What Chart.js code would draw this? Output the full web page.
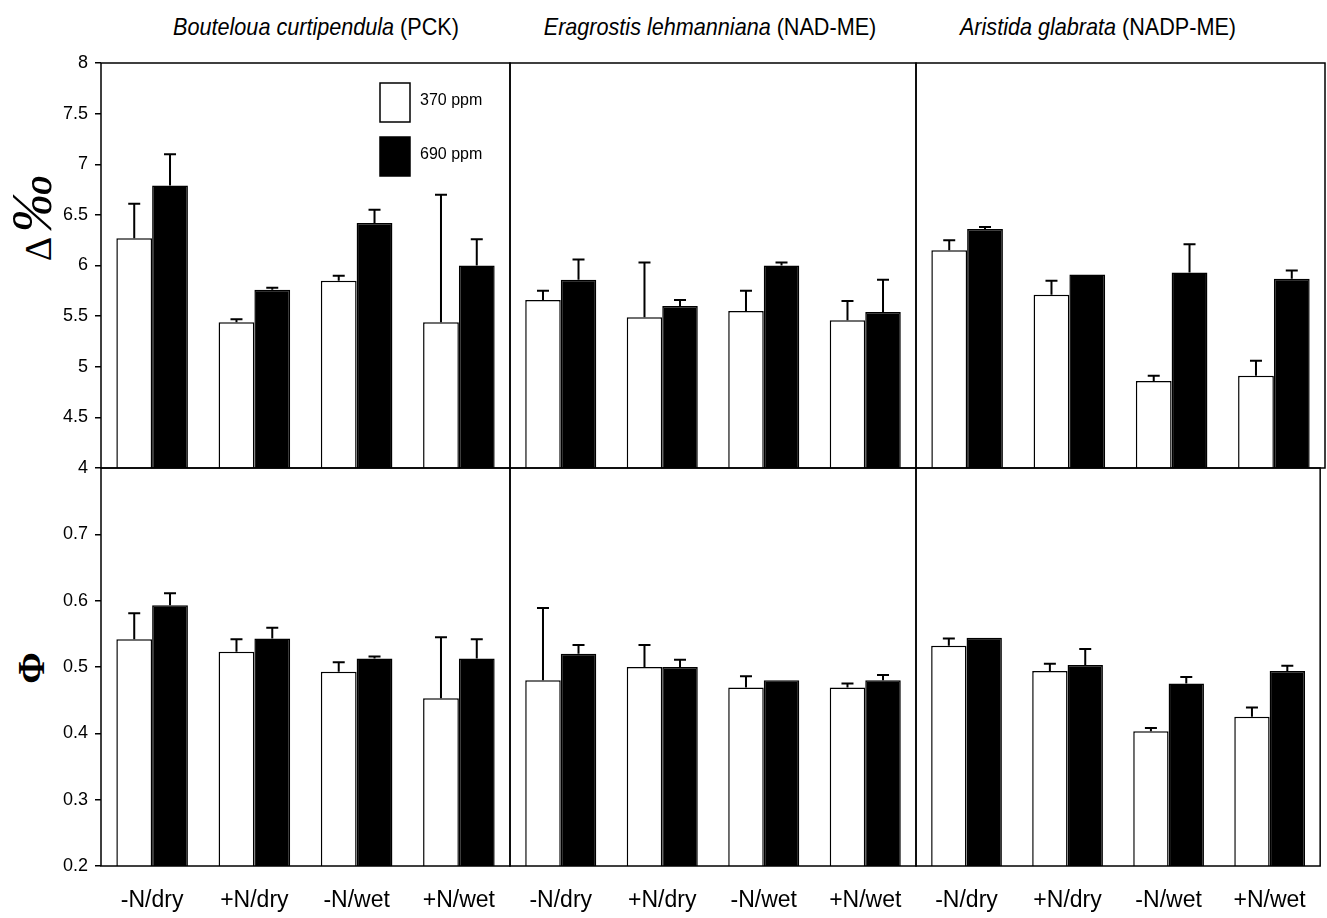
<!DOCTYPE html>
<html>
<head>
<meta charset="utf-8">
<script src="https://cdn.jsdelivr.net/npm/chart.js@4.4.1/dist/chart.umd.min.js"></script>
<style>
  html, body { margin: 0; padding: 0; background: #fff; }
  #wrap { position: relative; width: 1327px; height: 918px; overflow: hidden; }
  #wrap canvas { position: absolute; left: 0; top: 0; }
  .title {
    position: absolute; top: 12px; line-height: 30px; transform: translateX(-50%) scaleX(0.9);
    white-space: nowrap; color: #000; font-size: 24px;
    font-family: 'Liberation Sans', Arial, sans-serif;
  }
  .ylab {
    position: absolute; white-space: nowrap; color: #000;
    font-family: 'Liberation Serif', 'DejaVu Serif', serif;
    transform: translate(-50%, -50%) rotate(-90deg);
  }
</style>
</head>
<body>
<div id="wrap">
  <div class="title" style="left:316px"><i>Bouteloua curtipendula</i> (PCK)</div>
  <div class="title" style="left:710px"><i>Eragrostis lehmanniana</i> (NAD-ME)</div>
  <div class="title" style="left:1098px"><i>Aristida glabrata</i> (NADP-ME)</div>
  <div class="ylab" style="left:31px; top:218px"><span style="font-size:38px">Δ</span>&nbsp;<span style="font-size:58px; font-style:italic; font-weight:normal">‰</span></div>
  <div class="ylab" style="left:31px; top:668px; font-size:38px; font-weight:bold">Φ</div>
</div>
<script>
const conditions = ['-N/dry', '+N/dry', '-N/wet', '+N/wet'];
const seriesLabels = ['370 ppm', '690 ppm'];
const deltaTicks = [4, 4.5, 5, 5.5, 6, 6.5, 7, 7.5, 8];
const phiTicks = [0.2, 0.3, 0.4, 0.5, 0.6, 0.7];

// Δ‰ (bar value and top of the error bar)
const deltaBout370 = [6.27, 5.44, 5.85, 5.44];
const deltaBout370Upper = [6.61, 5.47, 5.90, 6.70];
const deltaBout690 = [6.79, 5.76, 6.42, 6.00];
const deltaBout690Upper = [7.10, 5.78, 6.55, 6.26];
const deltaErag370 = [5.66, 5.49, 5.55, 5.46];
const deltaErag370Upper = [5.75, 6.03, 5.75, 5.65];
const deltaErag690 = [5.86, 5.60, 6.00, 5.54];
const deltaErag690Upper = [6.06, 5.66, 6.03, 5.86];
const deltaArist370 = [6.15, 5.71, 4.86, 4.91];
const deltaArist370Upper = [6.25, 5.85, 4.91, 5.06];
const deltaArist690 = [6.36, 5.91, 5.93, 5.87];
const deltaArist690Upper = [6.38, 5.91, 6.21, 5.95];

// Φ
const phiBout370 = [0.542, 0.523, 0.493, 0.453];
const phiBout370Upper = [0.581, 0.542, 0.507, 0.545];
const phiBout690 = [0.593, 0.543, 0.513, 0.513];
const phiBout690Upper = [0.611, 0.559, 0.516, 0.542];
const phiErag370 = [0.480, 0.500, 0.469, 0.469];
const phiErag370Upper = [0.589, 0.533, 0.486, 0.475];
const phiErag690 = [0.520, 0.500, 0.480, 0.480];
const phiErag690Upper = [0.533, 0.511, 0.480, 0.488];
const phiArist370 = [0.532, 0.494, 0.403, 0.425];
const phiArist370Upper = [0.543, 0.505, 0.408, 0.439];
const phiArist690 = [0.544, 0.503, 0.475, 0.494];
const phiArist690Upper = [0.544, 0.527, 0.485, 0.502];

const W = 1327, H = 918;
const colLeft = [101, 510, 916];
const colRight = [510, 916, 1325];
const rowTop = [63, 468];
const rowBottom = [468, 866];
const sans = "'Liberation Sans', Arial, sans-serif";

const panels = [
  { row: 0, col: 0, a: deltaBout370, aUp: deltaBout370Upper, b: deltaBout690, bUp: deltaBout690Upper },
  { row: 0, col: 1, a: deltaErag370, aUp: deltaErag370Upper, b: deltaErag690, bUp: deltaErag690Upper },
  { row: 0, col: 2, a: deltaArist370, aUp: deltaArist370Upper, b: deltaArist690, bUp: deltaArist690Upper },
  { row: 1, col: 0, a: phiBout370, aUp: phiBout370Upper, b: phiBout690, bUp: phiBout690Upper },
  { row: 1, col: 1, a: phiErag370, aUp: phiErag370Upper, b: phiErag690, bUp: phiErag690Upper },
  { row: 1, col: 2, a: phiArist370, aUp: phiArist370Upper, b: phiArist690, bUp: phiArist690Upper }
];

// upper error whiskers
const errorBars = {
  id: 'errorBars',
  afterDatasetsDraw(chart) {
    const ctx = chart.ctx, y = chart.scales.y;
    chart.data.datasets.forEach((ds, i) => {
      chart.getDatasetMeta(i).data.forEach((bar, j) => {
        const top = ds.upper[j];
        if (top <= ds.data[j]) return;
        const yt = y.getPixelForValue(top);
        ctx.save();
        ctx.strokeStyle = '#000';
        ctx.lineWidth = 2;
        ctx.beginPath();
        ctx.moveTo(bar.x, bar.y);
        ctx.lineTo(bar.x, yt);
        ctx.moveTo(bar.x - 6, yt);
        ctx.lineTo(bar.x + 6, yt);
        ctx.stroke();
        ctx.restore();
      });
    });
  }
};

const frame = {
  id: 'frame',
  afterDraw(chart) {
    const a = chart.chartArea, ctx = chart.ctx;
    ctx.save();
    ctx.strokeStyle = '#000';
    ctx.lineWidth = 1.5;
    ctx.strokeRect(a.left, a.top, a.right - a.left, a.bottom - a.top);
    ctx.restore();
  }
};

const boxLegend = {
  id: 'boxLegend',
  afterDraw(chart) {
    const a = chart.chartArea, ctx = chart.ctx;
    ctx.save();
    chart.data.datasets.forEach((ds, i) => {
      const x = a.right - 130, y = a.top + 20 + i * 54;
      ctx.fillStyle = ds.backgroundColor;
      ctx.fillRect(x, y, 30, 39);
      ctx.strokeStyle = '#000';
      ctx.lineWidth = 1.5;
      ctx.strokeRect(x, y, 30, 39);
      ctx.fillStyle = '#000';
      ctx.font = '16px ' + sans;
      ctx.textBaseline = 'middle';
      ctx.fillText(ds.label, x + 40, y + 18);
    });
    ctx.restore();
  }
};

panels.forEach((p, k) => {
  const canvas = document.createElement('canvas');
  canvas.width = W;
  canvas.height = H;
  document.getElementById('wrap').appendChild(canvas);
  const isDelta = p.row === 0;
  const tickList = isDelta ? deltaTicks : phiTicks;
  new Chart(canvas.getContext('2d'), {
    type: 'bar',
    data: {
      labels: conditions,
      datasets: [
        { label: seriesLabels[0], data: p.a, upper: p.aUp, backgroundColor: '#ffffff', borderColor: '#000', borderWidth: 1.5 },
        { label: seriesLabels[1], data: p.b, upper: p.bUp, backgroundColor: '#000000', borderColor: '#000', borderWidth: 1.5 }
      ]
    },
    options: {
      responsive: false,
      animation: false,
      events: [],
      layout: {
        padding: {
          left: p.col === 0 ? 0 : colLeft[p.col],
          right: W - colRight[p.col],
          top: rowTop[p.row],
          bottom: p.row === 1 ? 0 : H - rowBottom[p.row]
        }
      },
      datasets: { bar: { categoryPercentage: 0.7, barPercentage: 1.0 } },
      plugins: { legend: { display: false }, tooltip: { enabled: false } },
      scales: {
        x: {
          display: p.row === 1,
          grid: { display: false, drawTicks: false },
          border: { display: false },
          ticks: { color: '#000', padding: 21, font: { family: sans, size: 23 } },
          afterFit: s => { s.height = p.row === 1 ? H - rowBottom[1] : 0; }
        },
        y: {
          display: p.col === 0,
          min: tickList[0],
          max: isDelta ? 8 : 0.8,
          afterBuildTicks: s => { s.ticks = tickList.map(v => ({ value: v })); },
          grid: { drawOnChartArea: false, drawTicks: true, tickLength: 6, color: '#000', lineWidth: 1.5 },
          border: { display: false },
          ticks: { color: '#000', padding: 7, font: { family: sans, size: 18 }, callback: v => String(v) },
          afterFit: s => { s.width = p.col === 0 ? colLeft[0] : 0; }
        }
      }
    },
    plugins: k === 0 ? [errorBars, frame, boxLegend] : [errorBars, frame]
  });
});
</script>
</body>
</html>
